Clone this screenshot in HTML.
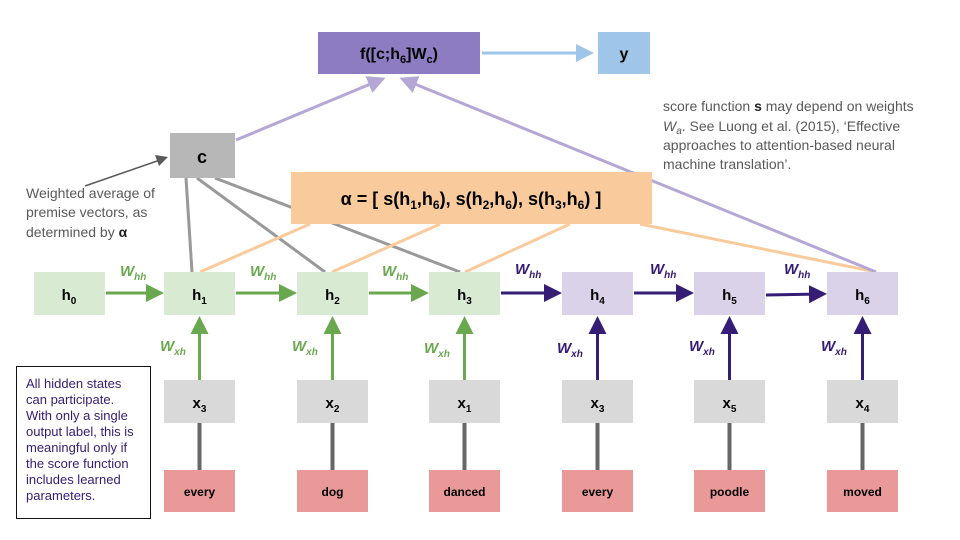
<!DOCTYPE html>
<html><head><meta charset="utf-8"><style>
body{margin:0;background:#fff}
svg{display:block;font-family:"Liberation Sans",Arial,sans-serif}
</style></head><body>
<svg width="960" height="540" viewBox="0 0 960 540">
<defs>
<marker id="ag" markerWidth="6" markerHeight="6" refX="4" refY="3" orient="auto"><path d="M0,0L6,3L0,6z" fill="#6aa84f"/></marker>
<marker id="an" markerWidth="6" markerHeight="6" refX="4" refY="3" orient="auto"><path d="M0,0L6,3L0,6z" fill="#351c75"/></marker>
<marker id="ap" markerWidth="6" markerHeight="6" refX="4" refY="3" orient="auto"><path d="M0,0L6,3L0,6z" fill="#b4a7d6"/></marker>
<marker id="ab" markerWidth="6" markerHeight="6" refX="4" refY="3" orient="auto"><path d="M0,0L6,3L0,6z" fill="#9fc5e8"/></marker>
<marker id="ak" markerWidth="8" markerHeight="8" refX="5" refY="4" orient="auto" markerUnits="userSpaceOnUse"><path d="M0,0L8,4L0,8z" fill="#595959" transform="scale(1.4) translate(-1,-1.2)"/></marker>
</defs>
<g stroke-width="3">
<line x1="186" y1="178" x2="192" y2="272" stroke="#999"/>
<line x1="197" y1="178" x2="325" y2="272" stroke="#999"/>
<line x1="215" y1="178" x2="460" y2="272" stroke="#999"/>
<line x1="200" y1="272" x2="310" y2="224" stroke="#f9cb9c"/>
<line x1="332" y1="272" x2="440" y2="224" stroke="#f9cb9c"/>
<line x1="465" y1="272" x2="570" y2="224" stroke="#f9cb9c"/>
<line x1="876" y1="272" x2="640" y2="224" stroke="#f9cb9c"/>
<line x1="236" y1="140" x2="380" y2="80" stroke="#b4a7d6" marker-end="url(#ap)"/>
<line x1="876" y1="272" x2="405" y2="80" stroke="#b4a7d6" marker-end="url(#ap)"/>
<line x1="482" y1="53" x2="588" y2="53" stroke="#9fc5e8" marker-end="url(#ab)"/>
<line x1="85" y1="186" x2="160" y2="160" stroke="#595959" stroke-width="1.5"/>
<path d="M168,157 L155,155 L159,166 z" fill="#595959"/>
</g>
<rect x="318" y="32" width="162" height="42" fill="#8e7cc3"/>
<text x="399" y="59" text-anchor="middle" font-size="16" font-weight="bold">f([c;h<tspan font-size="11" dy="4">6</tspan><tspan dy="-4">]W</tspan><tspan font-size="11" dy="4">c</tspan><tspan dy="-4">)</tspan></text>
<rect x="598" y="32" width="52" height="42" fill="#9fc5e8"/>
<text x="624" y="59" text-anchor="middle" font-size="16" font-weight="bold">y</text>
<rect x="170" y="133" width="65" height="45" fill="#b7b7b7"/>
<text x="202" y="163" text-anchor="middle" font-size="18" font-weight="bold">c</text>
<rect x="291" y="172" width="361" height="52" fill="#f9cb9c"/>
<text x="471" y="205" text-anchor="middle" font-size="18" font-weight="bold">α = [ s(h<tspan font-size="12" dy="4">1</tspan><tspan dy="-4">,h</tspan><tspan font-size="12" dy="4">6</tspan><tspan dy="-4">), s(h</tspan><tspan font-size="12" dy="4">2</tspan><tspan dy="-4">,h</tspan><tspan font-size="12" dy="4">6</tspan><tspan dy="-4">), s(h</tspan><tspan font-size="12" dy="4">3</tspan><tspan dy="-4">,h</tspan><tspan font-size="12" dy="4">6</tspan><tspan dy="-4">) ]</tspan></text>
<g font-size="14" fill="#595959">
<text x="26" y="198">Weighted average of</text>
<text x="26" y="217">premise vectors, as</text>
<text x="26" y="237">determined by <tspan font-weight="bold" fill="#222">α</tspan></text>
</g>
<g font-size="14" fill="#595959">
<text x="663" y="111">score function <tspan font-weight="bold" fill="#222">s</tspan> may depend on weights</text>
<text x="663" y="131"><tspan font-style="italic">W</tspan><tspan font-style="italic" font-size="10" dy="3">a</tspan><tspan dy="-3">. See Luong et al. (2015), ‘Effective</tspan></text>
<text x="663" y="150">approaches to attention-based neural</text>
<text x="663" y="169">machine translation’.</text>
</g>
<g stroke-width="3">
<line x1="106" y1="293" x2="158" y2="293" stroke="#6aa84f" marker-end="url(#ag)"/>
<line x1="236" y1="293" x2="291" y2="293" stroke="#6aa84f" marker-end="url(#ag)"/>
<line x1="369" y1="293" x2="423" y2="293" stroke="#6aa84f" marker-end="url(#ag)"/>
<line x1="501" y1="293" x2="556" y2="293" stroke="#351c75" marker-end="url(#an)"/>
<line x1="634" y1="293" x2="688" y2="293" stroke="#351c75" marker-end="url(#an)"/>
<line x1="766" y1="295" x2="821" y2="294" stroke="#351c75" marker-end="url(#an)"/>
</g>
<g font-size="15" font-weight="bold" font-style="italic">
<text x="120" y="276" fill="#6aa84f">W<tspan font-size="10" dy="4">hh</tspan></text>
<text x="250" y="276" fill="#6aa84f">W<tspan font-size="10" dy="4">hh</tspan></text>
<text x="382" y="276" fill="#6aa84f">W<tspan font-size="10" dy="4">hh</tspan></text>
<text x="515" y="274" fill="#351c75">W<tspan font-size="10" dy="4">hh</tspan></text>
<text x="650" y="274" fill="#351c75">W<tspan font-size="10" dy="4">hh</tspan></text>
<text x="784" y="274" fill="#351c75">W<tspan font-size="10" dy="4">hh</tspan></text>
<text x="160" y="351" fill="#6aa84f">W<tspan font-size="10" dy="4">xh</tspan></text>
<text x="292" y="351" fill="#6aa84f">W<tspan font-size="10" dy="4">xh</tspan></text>
<text x="424" y="353" fill="#6aa84f">W<tspan font-size="10" dy="4">xh</tspan></text>
<text x="557" y="353" fill="#351c75">W<tspan font-size="10" dy="4">xh</tspan></text>
<text x="689" y="351" fill="#351c75">W<tspan font-size="10" dy="4">xh</tspan></text>
<text x="821" y="351" fill="#351c75">W<tspan font-size="10" dy="4">xh</tspan></text>
</g>
<g id="cols"></g>
<rect x="16.5" y="366.5" width="134" height="152" fill="#fff" stroke="#111"/>
<g font-size="13" fill="#351c75">
<text x="26" y="388">All hidden states</text>
<text x="26" y="404">can participate.</text>
<text x="26" y="420">With only a single</text>
<text x="26" y="436">output label, this is</text>
<text x="26" y="452">meaningful only if</text>
<text x="26" y="468">the score function</text>
<text x="26" y="484">includes learned</text>
<text x="26" y="500">parameters.</text>
</g>
<rect x="34" y="272" width="71" height="43" fill="#d9ead3"/>
<text x="69" y="300" text-anchor="middle" font-size="15" font-weight="bold">h<tspan font-size="10" dy="4">0</tspan></text>
<script>
const xs=[164,297,429,562,694,827];
const hsub=["1","2","3","4","5","6"];
const xsub=["3","2","1","3","5","4"];
const words=["every","dog","danced","every","poodle","moved"];
const NS="http://www.w3.org/2000/svg";
const g=document.getElementById("cols");
function mk(t,a,txt){const e=document.createElementNS(NS,t);for(const k in a)e.setAttribute(k,a[k]);if(txt)e.textContent=txt;g.appendChild(e);return e;}
xs.forEach((x,i)=>{
 const cx=x+35.5, green=i<3;
 const l=mk("line",{x1:cx,y1:470,x2:cx,y2:423,stroke:"#666","stroke-width":4});
 
 
 const a=mk("line",{x1:cx,y1:380,x2:cx,y2:322,stroke:green?"#6aa84f":"#351c75","stroke-width":3,"marker-end":green?"url(#ag)":"url(#an)"});
 
 
 const h=mk("rect",{x:x,y:272,width:71,height:43,fill:green?"#d9ead3":"#d9d2e9"});
 
 
 const ht=mk("text",{x:cx,y:300,"text-anchor":"middle","font-size":15,"font-weight":"bold"},"h");
 
 
 const s1=document.createElementNS(NS,"tspan");s1.setAttribute("font-size",10);s1.setAttribute("dy",4);s1.textContent=hsub[i];ht.appendChild(s1);
 const xb=mk("rect",{x:x,y:380,width:71,height:43,fill:"#d9d9d9"});
 
 
 const xt=mk("text",{x:cx,y:408,"text-anchor":"middle","font-size":15,"font-weight":"bold"},"x");
 
 
 const s2=document.createElementNS(NS,"tspan");s2.setAttribute("font-size",10);s2.setAttribute("dy",4);s2.textContent=xsub[i];xt.appendChild(s2);
 const wb=mk("rect",{x:x,y:470,width:71,height:42,fill:"#ea9999"});
 
 
 const wt=mk("text",{x:cx,y:496,"text-anchor":"middle","font-size":12,"font-weight":"bold"},words[i]);
 
 
});
</script>
</svg>
</body></html>
